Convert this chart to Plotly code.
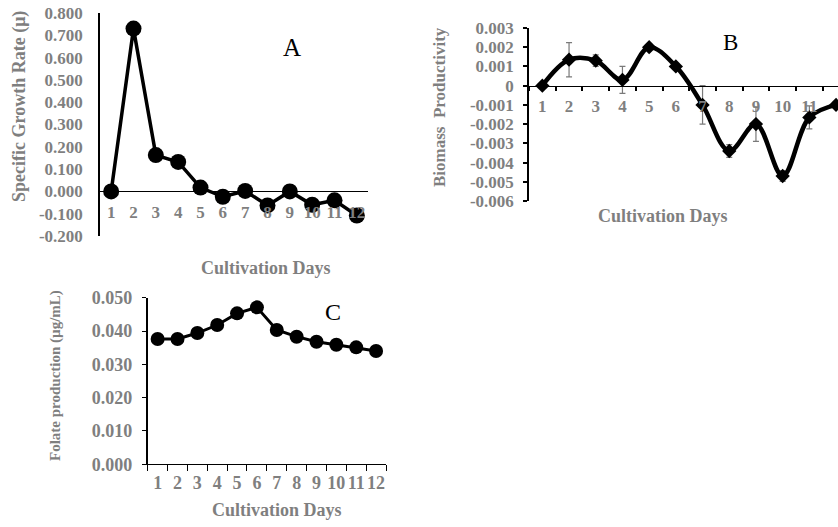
import plotly.graph_objects as go

# ---------------- data ----------------
days = list(range(1, 13))
day_labels = [str(d) for d in days]

growth_rate = [0.000, 0.730, 0.163, 0.132, 0.017, -0.024, 0.002, -0.063, 0.000, -0.060, -0.040, -0.108]

biomass_prod = [0.0000, 0.00135, 0.0013, 0.0003, 0.0020, 0.0010, -0.0010, -0.0034, -0.0020, -0.0047, -0.00165, -0.0010]
biomass_err = [0.00005, 0.00089, 0.0003, 0.0007, 0.0001, 0.0001, 0.0010, 0.00033, 0.0009, 0.00028, 0.0006, 0.0001]

folate = [0.0376, 0.0376, 0.0394, 0.0418, 0.0453, 0.0471, 0.0403, 0.0383, 0.0368, 0.0359, 0.0351, 0.0340]

a_yvals = [0.8, 0.7, 0.6, 0.5, 0.4, 0.3, 0.2, 0.1, 0.0, -0.1, -0.2]
a_ytext = ["0.800", "0.700", "0.600", "0.500", "0.400", "0.300", "0.200", "0.100", "0.000", "-0.100", "-0.200"]
b_yvals = [0.003, 0.002, 0.001, 0, -0.001, -0.002, -0.003, -0.004, -0.005, -0.006]
b_ytext = ["0.003", "0.002", "0.001", "0", "-0.001", "-0.002", "-0.003", "-0.004", "-0.005", "-0.006"]
c_yvals = [0.0, 0.01, 0.02, 0.03, 0.04, 0.05]
c_ytext = ["0.000", "0.010", "0.020", "0.030", "0.040", "0.050"]

# ---------------- layout helpers ----------------
W, H = 838, 527
def xf(px):
    return px / W
def yf(py):
    return 1 - py / H

SERIF = "Liberation Serif, Times New Roman, serif"
GRAY = "#7f7f7f"
tickfont = dict(family=SERIF, size=17, color=GRAY, weight="bold")
tickfont_c = dict(family=SERIF, size=18, color=GRAY, weight="bold")

fig = go.Figure()

# Panel A
fig.add_trace(go.Scatter(x=days, y=growth_rate, mode="lines+markers",
                         line=dict(color="black", width=3.5),
                         marker=dict(symbol="circle", size=16, color="black"),
                         xaxis="x", yaxis="y"))
# Panel B
fig.add_trace(go.Scatter(x=days, y=biomass_prod, mode="lines+markers",
                         line=dict(color="black", width=4.5, shape="spline", smoothing=1.0),
                         marker=dict(symbol="diamond", size=11, color="black"),
                         error_y=dict(type="data", array=biomass_err, visible=True,
                                      color="#7a7a7a", thickness=1.2, width=3),
                         xaxis="x2", yaxis="y2"))
# Panel C
fig.add_trace(go.Scatter(x=days, y=folate, mode="lines+markers",
                         line=dict(color="black", width=3),
                         marker=dict(symbol="circle", size=14, color="black"),
                         xaxis="x3", yaxis="y3"))

# domains
a_x = [xf(100), xf(368)]
a_y = [yf(236), yf(13)]
a_zero = a_y[0] + (0 - (-0.2)) / 1.0 * (a_y[1] - a_y[0])

b_x = [xf(529), 1.0]
b_y = [yf(201), yf(28)]
b_zero = b_y[0] + (0 - (-0.006)) / 0.009 * (b_y[1] - b_y[0])
b_xmax = 0.5 + (838 - 529) / 26.7

c_x = [xf(147.7), xf(386)]
c_y = [yf(464.3), yf(297.7)]

common = dict(showgrid=False, zeroline=False, automargin=False)

fig.update_layout(
    width=W, height=H,
    margin=dict(l=0, r=0, t=0, b=0, autoexpand=False),
    paper_bgcolor="white", plot_bgcolor="rgba(0,0,0,0)",
    showlegend=False,
    xaxis=dict(domain=a_x, range=[0.5, 12.5], anchor="free", position=a_zero,
               tickvals=days, ticktext=day_labels, tickfont=tickfont,
               showline=True, linecolor="black", linewidth=1.2,
               ticks="", ticklabelstandoff=5, **common),
    yaxis=dict(domain=a_y, range=[-0.2, 0.8], anchor="x",
               tickvals=a_yvals, ticktext=a_ytext, tickfont=tickfont,
               showline=True, linecolor="black", linewidth=1.5,
               ticks="", ticklabelstandoff=12, **common),
    xaxis2=dict(domain=b_x, range=[0.5, b_xmax], anchor="free", position=b_zero,
                tickvals=days, ticktext=day_labels, tickfont=tickfont,
                showline=True, linecolor="black", linewidth=1.2,
                ticks="", ticklabelstandoff=5,
                minor=dict(ticks="outside", tick0=0.5, dtick=1, ticklen=4,
                           tickcolor="black", tickwidth=1.5, showgrid=False),
                **common),
    yaxis2=dict(domain=b_y, range=[-0.006, 0.003], anchor="x2",
                tickvals=b_yvals, ticktext=b_ytext, tickfont=tickfont,
                showline=True, linecolor="black", linewidth=1.5,
                ticks="outside", ticklen=4, tickcolor="black",
                tickwidth=1.5, ticklabelstandoff=6, **common),
    xaxis3=dict(domain=c_x, range=[0.5, 12.5], anchor="y3",
                tickvals=days, ticktext=day_labels, tickfont=tickfont_c,
                showline=True, linecolor="black", linewidth=1.2,
                ticks="", ticklabelstandoff=2,
                minor=dict(ticks="outside", tick0=0.5, dtick=1, ticklen=6,
                           tickcolor="black", tickwidth=1.2, showgrid=False),
                **common),
    yaxis3=dict(domain=c_y, range=[0, 0.05], anchor="x3",
                tickvals=c_yvals, ticktext=c_ytext, tickfont=tickfont_c,
                showline=True, linecolor="black", linewidth=1.5,
                ticks="outside", ticklen=4, tickcolor="black",
                tickwidth=1.2, ticklabelstandoff=6, **common),
)

def ann(text, px, py, size, color=GRAY, bold=True, angle=0):
    fig.add_annotation(text=text, x=xf(px), y=yf(py), xref="paper", yref="paper",
                       showarrow=False, textangle=angle, xanchor="center", yanchor="middle",
                       font=dict(family=SERIF, size=size, color=color,
                                 weight="bold" if bold else "normal"))

# axis titles
ann("Specific Growth Rate (\u03bc)", 20, 107, 18, angle=-90)
ann("Cultivation Days", 266, 268, 18)
ann("Biomass\u00a0\u00a0Productivity", 439.5, 107.5, 17, angle=-90)
ann("Cultivation Days", 662.5, 216, 18)
ann("Folate production (\u00b5g/mL)", 55, 376, 15, angle=-90)
ann("Cultivation Days", 277, 510, 18)

# panel letters
ann("A", 292, 47, 25, color="black", bold=False)
ann("B", 730, 42, 23, color="black", bold=False)
ann("C", 333, 312, 24, color="black", bold=False)

# remove the default page margin so the figure fills the window exactly
fig.write_html("out.html", config={"displayModeBar": False},
               post_script="document.body.style.margin='0';")
